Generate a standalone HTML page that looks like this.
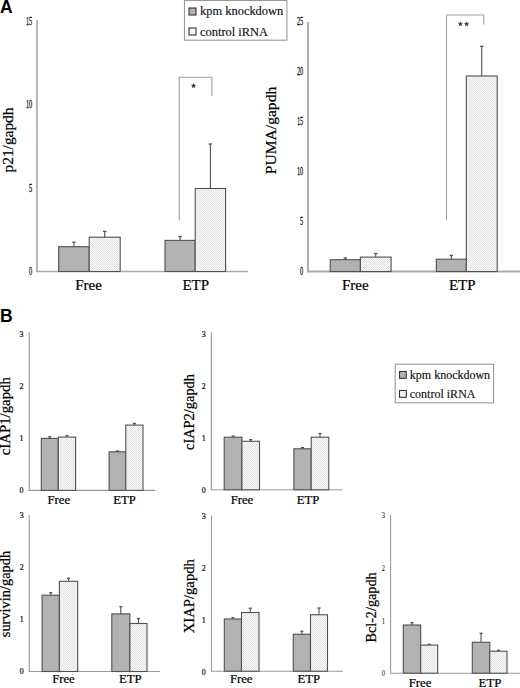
<!DOCTYPE html>
<html><head><meta charset="utf-8"><style>
html,body{margin:0;padding:0;background:#fff;width:520px;height:688px;overflow:hidden;}
svg{display:block;}
</style></head><body>
<svg width="520" height="688" viewBox="0 0 520 688">
<defs>
<pattern id="dots" width="2" height="2" patternUnits="userSpaceOnUse">
<rect width="2" height="2" fill="#f8f8f8"/>
<rect x="0" y="0" width="1" height="1" fill="#e4e4e4"/>
<rect x="1" y="1" width="1" height="1" fill="#e4e4e4"/>
</pattern>
</defs>
<text x="0" y="12.6" font-family="Liberation Sans" font-weight="bold" font-size="17.5" fill="#000">A</text>
<line x1="37" y1="20" x2="37" y2="271.5" stroke="#ababab" stroke-width="1.7"/>
<line x1="36.15" y1="271.5" x2="248" y2="271.5" stroke="#ababab" stroke-width="1.7"/>
<text x="0" y="0" transform="translate(32.30,24.58) scale(0.53,1)" text-anchor="end" font-family="Liberation Serif" font-size="12" fill="#111" stroke="#111" stroke-width="0.25">15</text>
<text x="0" y="0" transform="translate(32.30,108.08) scale(0.53,1)" text-anchor="end" font-family="Liberation Serif" font-size="12" fill="#111" stroke="#111" stroke-width="0.25">10</text>
<text x="0" y="0" transform="translate(32.30,191.58) scale(0.53,1)" text-anchor="end" font-family="Liberation Serif" font-size="12" fill="#111" stroke="#111" stroke-width="0.25">5</text>
<text x="0" y="0" transform="translate(32.30,275.08) scale(0.53,1)" text-anchor="end" font-family="Liberation Serif" font-size="12" fill="#111" stroke="#111" stroke-width="0.25">0</text>
<rect x="58.70" y="246.70" width="30.50" height="24.80" fill="#b2b2b2" stroke="#505050" stroke-width="1.1"/>
<line x1="73.95" y1="242.20" x2="73.95" y2="246.70" stroke="#505050" stroke-width="1.1"/>
<line x1="72.25" y1="242.20" x2="75.65" y2="242.20" stroke="#505050" stroke-width="1.3"/>
<rect x="89.20" y="237.20" width="31.00" height="34.30" fill="url(#dots)" stroke="#505050" stroke-width="1.1"/>
<line x1="104.70" y1="231.40" x2="104.70" y2="237.20" stroke="#505050" stroke-width="1.1"/>
<line x1="103.00" y1="231.40" x2="106.40" y2="231.40" stroke="#505050" stroke-width="1.3"/>
<rect x="165.00" y="240.40" width="30.20" height="31.10" fill="#b2b2b2" stroke="#505050" stroke-width="1.1"/>
<line x1="180.10" y1="236.60" x2="180.10" y2="240.40" stroke="#505050" stroke-width="1.1"/>
<line x1="178.40" y1="236.60" x2="181.80" y2="236.60" stroke="#505050" stroke-width="1.3"/>
<rect x="195.20" y="188.50" width="30.40" height="83.00" fill="url(#dots)" stroke="#505050" stroke-width="1.1"/>
<line x1="210.40" y1="144.00" x2="210.40" y2="188.50" stroke="#505050" stroke-width="1.1"/>
<line x1="208.70" y1="144.00" x2="212.10" y2="144.00" stroke="#505050" stroke-width="1.3"/>
<polyline points="179.2,220.5 179.2,77.3 211.9,77.3 211.9,96.2" fill="none" stroke="#a0a0a0" stroke-width="1.1"/>
<polygon points="193.60,83.60 194.19,85.09 195.79,85.19 194.55,86.21 194.95,87.76 193.60,86.90 192.25,87.76 192.65,86.21 191.41,85.19 193.01,85.09" fill="#333" stroke="#333" stroke-width="0.4"/>
<text x="88.50" y="290.20" text-anchor="middle" font-family="Liberation Serif" font-size="15" fill="#000" stroke="#000" stroke-width="0.22">Free</text>
<text x="195.80" y="290.30" text-anchor="middle" font-family="Liberation Serif" font-size="15" fill="#000" stroke="#000" stroke-width="0.22">ETP</text>
<text x="0" y="0" transform="translate(12.80,140.00) rotate(-90)" text-anchor="middle" font-family="Liberation Serif" font-size="15.4" fill="#000" stroke="#000" stroke-width="0.22">p21/gapdh</text>
<rect x="184.5" y="0.5" width="102.39999999999998" height="39.7" fill="#fff" stroke="#999" stroke-width="1.1"/>
<rect x="189" y="8" width="7" height="7" fill="#b2b2b2" stroke="#333" stroke-width="1.1"/>
<rect x="189" y="28" width="7" height="7" fill="#f4f4f4" stroke="#333" stroke-width="1.1"/>
<text x="200" y="15.3" font-family="Liberation Serif" font-size="12.45" fill="#111" stroke="#111" stroke-width="0.15">kpm knockdown</text>
<text x="200" y="35.7" font-family="Liberation Serif" font-size="12.45" fill="#111" stroke="#111" stroke-width="0.15">control iRNA</text>
<line x1="307.9" y1="22" x2="307.9" y2="271.5" stroke="#ababab" stroke-width="1.9"/>
<line x1="306.95" y1="271.5" x2="520" y2="271.5" stroke="#ababab" stroke-width="1.9"/>
<text x="0" y="0" transform="translate(303.30,25.08) scale(0.53,1)" text-anchor="end" font-family="Liberation Serif" font-size="12" fill="#111" stroke="#111" stroke-width="0.25">25</text>
<text x="0" y="0" transform="translate(303.30,75.08) scale(0.53,1)" text-anchor="end" font-family="Liberation Serif" font-size="12" fill="#111" stroke="#111" stroke-width="0.25">20</text>
<text x="0" y="0" transform="translate(303.30,125.08) scale(0.53,1)" text-anchor="end" font-family="Liberation Serif" font-size="12" fill="#111" stroke="#111" stroke-width="0.25">15</text>
<text x="0" y="0" transform="translate(303.30,175.08) scale(0.53,1)" text-anchor="end" font-family="Liberation Serif" font-size="12" fill="#111" stroke="#111" stroke-width="0.25">10</text>
<text x="0" y="0" transform="translate(303.30,225.08) scale(0.53,1)" text-anchor="end" font-family="Liberation Serif" font-size="12" fill="#111" stroke="#111" stroke-width="0.25">5</text>
<text x="0" y="0" transform="translate(303.30,275.08) scale(0.53,1)" text-anchor="end" font-family="Liberation Serif" font-size="12" fill="#111" stroke="#111" stroke-width="0.25">0</text>
<rect x="330.20" y="259.70" width="30.20" height="11.80" fill="#b2b2b2" stroke="#505050" stroke-width="1.1"/>
<line x1="345.30" y1="258.00" x2="345.30" y2="259.70" stroke="#505050" stroke-width="1.1"/>
<line x1="343.60" y1="258.00" x2="347.00" y2="258.00" stroke="#505050" stroke-width="1.3"/>
<rect x="360.40" y="257.10" width="30.70" height="14.40" fill="url(#dots)" stroke="#505050" stroke-width="1.1"/>
<line x1="375.75" y1="253.50" x2="375.75" y2="257.10" stroke="#505050" stroke-width="1.1"/>
<line x1="374.05" y1="253.50" x2="377.45" y2="253.50" stroke="#505050" stroke-width="1.3"/>
<rect x="436.30" y="259.20" width="30.00" height="12.30" fill="#b2b2b2" stroke="#505050" stroke-width="1.1"/>
<line x1="451.30" y1="255.40" x2="451.30" y2="259.20" stroke="#505050" stroke-width="1.1"/>
<line x1="449.60" y1="255.40" x2="453.00" y2="255.40" stroke="#505050" stroke-width="1.3"/>
<rect x="466.30" y="76.00" width="30.90" height="195.50" fill="url(#dots)" stroke="#505050" stroke-width="1.1"/>
<line x1="481.75" y1="46.30" x2="481.75" y2="76.00" stroke="#505050" stroke-width="1.1"/>
<line x1="480.05" y1="46.30" x2="483.45" y2="46.30" stroke="#505050" stroke-width="1.3"/>
<polyline points="446.5,220.2 446.5,15 483.8,15 483.8,24.6" fill="none" stroke="#a0a0a0" stroke-width="1.1"/>
<polygon points="460.40,21.80 460.99,23.29 462.59,23.39 461.35,24.41 461.75,25.96 460.40,25.10 459.05,25.96 459.45,24.41 458.21,23.39 459.81,23.29" fill="#333" stroke="#333" stroke-width="0.4"/>
<polygon points="466.60,21.80 467.19,23.29 468.79,23.39 467.55,24.41 467.95,25.96 466.60,25.10 465.25,25.96 465.65,24.41 464.41,23.39 466.01,23.29" fill="#333" stroke="#333" stroke-width="0.4"/>
<text x="355.30" y="289.90" text-anchor="middle" font-family="Liberation Serif" font-size="15" fill="#000" stroke="#000" stroke-width="0.22">Free</text>
<text x="462.30" y="290.40" text-anchor="middle" font-family="Liberation Serif" font-size="15" fill="#000" stroke="#000" stroke-width="0.22">ETP</text>
<text x="0" y="0" transform="translate(276.20,130.50) rotate(-90)" text-anchor="middle" font-family="Liberation Serif" font-size="15.6" fill="#000" stroke="#000" stroke-width="0.22">PUMA/gapdh</text>
<text x="0" y="321.7" font-family="Liberation Sans" font-weight="bold" font-size="17.5" fill="#000">B</text>
<line x1="29.2" y1="332.3" x2="29.2" y2="490.4" stroke="#9a9a9a" stroke-width="1.1"/>
<line x1="28.65" y1="490.4" x2="155.2" y2="490.4" stroke="#9a9a9a" stroke-width="1.1"/>
<text x="0" y="0" transform="translate(23.40,336.66) scale(0.88,1)" text-anchor="end" font-family="Liberation Serif" font-size="9.0" fill="#111" stroke="#111" stroke-width="0.25">3</text>
<text x="0" y="0" transform="translate(23.40,388.66) scale(0.88,1)" text-anchor="end" font-family="Liberation Serif" font-size="9.0" fill="#111" stroke="#111" stroke-width="0.25">2</text>
<text x="0" y="0" transform="translate(23.40,440.66) scale(0.88,1)" text-anchor="end" font-family="Liberation Serif" font-size="9.0" fill="#111" stroke="#111" stroke-width="0.25">1</text>
<text x="0" y="0" transform="translate(23.40,492.66) scale(0.88,1)" text-anchor="end" font-family="Liberation Serif" font-size="9.0" fill="#111" stroke="#111" stroke-width="0.25">0</text>
<rect x="41.30" y="438.40" width="17.00" height="52.00" fill="#b2b2b2" stroke="#505050" stroke-width="1.1"/>
<line x1="49.80" y1="436.80" x2="49.80" y2="438.40" stroke="#505050" stroke-width="1.1"/>
<line x1="48.30" y1="436.80" x2="51.30" y2="436.80" stroke="#505050" stroke-width="1.3"/>
<rect x="58.30" y="437.10" width="17.30" height="53.30" fill="url(#dots)" stroke="#505050" stroke-width="1.1"/>
<line x1="66.95" y1="435.60" x2="66.95" y2="437.10" stroke="#505050" stroke-width="1.1"/>
<line x1="65.45" y1="435.60" x2="68.45" y2="435.60" stroke="#505050" stroke-width="1.3"/>
<rect x="109.10" y="451.80" width="16.70" height="38.60" fill="#b2b2b2" stroke="#505050" stroke-width="1.1"/>
<line x1="117.45" y1="451.00" x2="117.45" y2="451.80" stroke="#505050" stroke-width="1.1"/>
<line x1="115.95" y1="451.00" x2="118.95" y2="451.00" stroke="#505050" stroke-width="1.3"/>
<rect x="125.80" y="425.10" width="17.20" height="65.30" fill="url(#dots)" stroke="#505050" stroke-width="1.1"/>
<line x1="134.40" y1="423.50" x2="134.40" y2="425.10" stroke="#505050" stroke-width="1.1"/>
<line x1="132.90" y1="423.50" x2="135.90" y2="423.50" stroke="#505050" stroke-width="1.3"/>
<text x="58.80" y="503.50" text-anchor="middle" font-family="Liberation Serif" font-size="12.7" fill="#000" stroke="#000" stroke-width="0.22">Free</text>
<text x="124.50" y="503.50" text-anchor="middle" font-family="Liberation Serif" font-size="12.7" fill="#000" stroke="#000" stroke-width="0.22">ETP</text>
<text x="0" y="0" transform="translate(10.00,416.20) rotate(-90)" text-anchor="middle" font-family="Liberation Serif" font-size="14.8" fill="#000" stroke="#000" stroke-width="0.22">cIAP1/gapdh</text>
<line x1="211.3" y1="332.3" x2="211.3" y2="489.8" stroke="#9a9a9a" stroke-width="1.1"/>
<line x1="210.75" y1="489.8" x2="342.4" y2="489.8" stroke="#9a9a9a" stroke-width="1.1"/>
<text x="0" y="0" transform="translate(205.80,336.96) scale(0.88,1)" text-anchor="end" font-family="Liberation Serif" font-size="9.0" fill="#111" stroke="#111" stroke-width="0.25">3</text>
<text x="0" y="0" transform="translate(205.80,388.96) scale(0.88,1)" text-anchor="end" font-family="Liberation Serif" font-size="9.0" fill="#111" stroke="#111" stroke-width="0.25">2</text>
<text x="0" y="0" transform="translate(205.80,440.96) scale(0.88,1)" text-anchor="end" font-family="Liberation Serif" font-size="9.0" fill="#111" stroke="#111" stroke-width="0.25">1</text>
<text x="0" y="0" transform="translate(205.80,492.96) scale(0.88,1)" text-anchor="end" font-family="Liberation Serif" font-size="9.0" fill="#111" stroke="#111" stroke-width="0.25">0</text>
<rect x="224.20" y="437.20" width="17.70" height="52.60" fill="#b2b2b2" stroke="#505050" stroke-width="1.1"/>
<line x1="233.05" y1="436.10" x2="233.05" y2="437.20" stroke="#505050" stroke-width="1.1"/>
<line x1="231.55" y1="436.10" x2="234.55" y2="436.10" stroke="#505050" stroke-width="1.3"/>
<rect x="241.90" y="441.30" width="17.60" height="48.50" fill="url(#dots)" stroke="#505050" stroke-width="1.1"/>
<line x1="250.70" y1="439.60" x2="250.70" y2="441.30" stroke="#505050" stroke-width="1.1"/>
<line x1="249.20" y1="439.60" x2="252.20" y2="439.60" stroke="#505050" stroke-width="1.3"/>
<rect x="293.90" y="448.80" width="17.30" height="41.00" fill="#b2b2b2" stroke="#505050" stroke-width="1.1"/>
<line x1="302.55" y1="447.60" x2="302.55" y2="448.80" stroke="#505050" stroke-width="1.1"/>
<line x1="301.05" y1="447.60" x2="304.05" y2="447.60" stroke="#505050" stroke-width="1.3"/>
<rect x="311.20" y="437.20" width="17.60" height="52.60" fill="url(#dots)" stroke="#505050" stroke-width="1.1"/>
<line x1="320.00" y1="433.50" x2="320.00" y2="437.20" stroke="#505050" stroke-width="1.1"/>
<line x1="318.50" y1="433.50" x2="321.50" y2="433.50" stroke="#505050" stroke-width="1.3"/>
<text x="241.90" y="503.50" text-anchor="middle" font-family="Liberation Serif" font-size="12.7" fill="#000" stroke="#000" stroke-width="0.22">Free</text>
<text x="308.10" y="503.50" text-anchor="middle" font-family="Liberation Serif" font-size="12.7" fill="#000" stroke="#000" stroke-width="0.22">ETP</text>
<text x="0" y="0" transform="translate(194.00,412.00) rotate(-90)" text-anchor="middle" font-family="Liberation Serif" font-size="14.4" fill="#000" stroke="#000" stroke-width="0.22">cIAP2/gapdh</text>
<rect x="395.2" y="364.2" width="98.40000000000003" height="38.60000000000002" fill="#fff" stroke="#999" stroke-width="1.1"/>
<rect x="399.5" y="371.5" width="6.8" height="6.8" fill="#b2b2b2" stroke="#333" stroke-width="1.1"/>
<rect x="399.5" y="390.5" width="6.8" height="6.8" fill="#f4f4f4" stroke="#333" stroke-width="1.1"/>
<text x="409.8" y="378.7" font-family="Liberation Serif" font-size="12" fill="#111" stroke="#111" stroke-width="0.15">kpm knockdown</text>
<text x="409.8" y="397.7" font-family="Liberation Serif" font-size="12" fill="#111" stroke="#111" stroke-width="0.15">control iRNA</text>
<line x1="29.2" y1="515" x2="29.2" y2="671.5" stroke="#9a9a9a" stroke-width="1.1"/>
<line x1="28.65" y1="671.5" x2="159.8" y2="671.5" stroke="#9a9a9a" stroke-width="1.1"/>
<text x="0" y="0" transform="translate(23.80,517.76) scale(0.88,1)" text-anchor="end" font-family="Liberation Serif" font-size="9.0" fill="#111" stroke="#111" stroke-width="0.25">3</text>
<text x="0" y="0" transform="translate(23.80,569.76) scale(0.88,1)" text-anchor="end" font-family="Liberation Serif" font-size="9.0" fill="#111" stroke="#111" stroke-width="0.25">2</text>
<text x="0" y="0" transform="translate(23.80,621.76) scale(0.88,1)" text-anchor="end" font-family="Liberation Serif" font-size="9.0" fill="#111" stroke="#111" stroke-width="0.25">1</text>
<text x="0" y="0" transform="translate(23.80,673.76) scale(0.88,1)" text-anchor="end" font-family="Liberation Serif" font-size="9.0" fill="#111" stroke="#111" stroke-width="0.25">0</text>
<rect x="42.10" y="595.20" width="17.30" height="76.30" fill="#b2b2b2" stroke="#505050" stroke-width="1.1"/>
<line x1="50.75" y1="592.70" x2="50.75" y2="595.20" stroke="#505050" stroke-width="1.1"/>
<line x1="49.25" y1="592.70" x2="52.25" y2="592.70" stroke="#505050" stroke-width="1.3"/>
<rect x="59.40" y="581.30" width="18.30" height="90.20" fill="url(#dots)" stroke="#505050" stroke-width="1.1"/>
<line x1="68.55" y1="578.20" x2="68.55" y2="581.30" stroke="#505050" stroke-width="1.1"/>
<line x1="67.05" y1="578.20" x2="70.05" y2="578.20" stroke="#505050" stroke-width="1.3"/>
<rect x="111.80" y="613.90" width="18.10" height="57.60" fill="#b2b2b2" stroke="#505050" stroke-width="1.1"/>
<line x1="120.85" y1="606.70" x2="120.85" y2="613.90" stroke="#505050" stroke-width="1.1"/>
<line x1="119.35" y1="606.70" x2="122.35" y2="606.70" stroke="#505050" stroke-width="1.3"/>
<rect x="129.90" y="623.50" width="17.10" height="48.00" fill="url(#dots)" stroke="#505050" stroke-width="1.1"/>
<line x1="138.45" y1="618.50" x2="138.45" y2="623.50" stroke="#505050" stroke-width="1.1"/>
<line x1="136.95" y1="618.50" x2="139.95" y2="618.50" stroke="#505050" stroke-width="1.3"/>
<text x="63.40" y="683.00" text-anchor="middle" font-family="Liberation Serif" font-size="12.7" fill="#000" stroke="#000" stroke-width="0.22">Free</text>
<text x="130.20" y="683.00" text-anchor="middle" font-family="Liberation Serif" font-size="12.7" fill="#000" stroke="#000" stroke-width="0.22">ETP</text>
<text x="0" y="0" transform="translate(10.20,594.00) rotate(-90)" text-anchor="middle" font-family="Liberation Serif" font-size="14.4" fill="#000" stroke="#000" stroke-width="0.22">survivin/gapdh</text>
<line x1="211.5" y1="515.4" x2="211.5" y2="671.2" stroke="#9a9a9a" stroke-width="1.1"/>
<line x1="210.95" y1="671.2" x2="343" y2="671.2" stroke="#9a9a9a" stroke-width="1.1"/>
<text x="0" y="0" transform="translate(205.80,518.76) scale(0.88,1)" text-anchor="end" font-family="Liberation Serif" font-size="9.0" fill="#111" stroke="#111" stroke-width="0.25">3</text>
<text x="0" y="0" transform="translate(205.80,570.76) scale(0.88,1)" text-anchor="end" font-family="Liberation Serif" font-size="9.0" fill="#111" stroke="#111" stroke-width="0.25">2</text>
<text x="0" y="0" transform="translate(205.80,622.76) scale(0.88,1)" text-anchor="end" font-family="Liberation Serif" font-size="9.0" fill="#111" stroke="#111" stroke-width="0.25">1</text>
<text x="0" y="0" transform="translate(205.80,674.76) scale(0.88,1)" text-anchor="end" font-family="Liberation Serif" font-size="9.0" fill="#111" stroke="#111" stroke-width="0.25">0</text>
<rect x="224.30" y="619.00" width="17.20" height="52.20" fill="#b2b2b2" stroke="#505050" stroke-width="1.1"/>
<line x1="232.90" y1="617.75" x2="232.90" y2="619.00" stroke="#505050" stroke-width="1.1"/>
<line x1="231.40" y1="617.75" x2="234.40" y2="617.75" stroke="#505050" stroke-width="1.3"/>
<rect x="241.50" y="612.50" width="17.50" height="58.70" fill="url(#dots)" stroke="#505050" stroke-width="1.1"/>
<line x1="250.25" y1="608.25" x2="250.25" y2="612.50" stroke="#505050" stroke-width="1.1"/>
<line x1="248.75" y1="608.25" x2="251.75" y2="608.25" stroke="#505050" stroke-width="1.3"/>
<rect x="293.25" y="634.25" width="17.25" height="36.95" fill="#b2b2b2" stroke="#505050" stroke-width="1.1"/>
<line x1="301.88" y1="631.25" x2="301.88" y2="634.25" stroke="#505050" stroke-width="1.1"/>
<line x1="300.38" y1="631.25" x2="303.38" y2="631.25" stroke="#505050" stroke-width="1.3"/>
<rect x="310.50" y="614.75" width="17.00" height="56.45" fill="url(#dots)" stroke="#505050" stroke-width="1.1"/>
<line x1="319.00" y1="608.00" x2="319.00" y2="614.75" stroke="#505050" stroke-width="1.1"/>
<line x1="317.50" y1="608.00" x2="320.50" y2="608.00" stroke="#505050" stroke-width="1.3"/>
<text x="241.20" y="683.00" text-anchor="middle" font-family="Liberation Serif" font-size="12.7" fill="#000" stroke="#000" stroke-width="0.22">Free</text>
<text x="308.70" y="683.00" text-anchor="middle" font-family="Liberation Serif" font-size="12.7" fill="#000" stroke="#000" stroke-width="0.22">ETP</text>
<text x="0" y="0" transform="translate(194.00,596.20) rotate(-90)" text-anchor="middle" font-family="Liberation Serif" font-size="14.7" fill="#000" stroke="#000" stroke-width="0.22">XIAP/gapdh</text>
<line x1="390.6" y1="514.8" x2="390.6" y2="673.2" stroke="#9a9a9a" stroke-width="1.1"/>
<line x1="390.05" y1="673.2" x2="520" y2="673.2" stroke="#9a9a9a" stroke-width="1.1"/>
<text x="0" y="0" transform="translate(385.00,518.08) scale(0.85,1)" text-anchor="end" font-family="Liberation Serif" font-size="7.6" fill="#111" stroke="#111" stroke-width="0.05">3</text>
<text x="0" y="0" transform="translate(385.00,570.88) scale(0.85,1)" text-anchor="end" font-family="Liberation Serif" font-size="7.6" fill="#111" stroke="#111" stroke-width="0.05">2</text>
<text x="0" y="0" transform="translate(385.00,623.68) scale(0.85,1)" text-anchor="end" font-family="Liberation Serif" font-size="7.6" fill="#111" stroke="#111" stroke-width="0.05">1</text>
<text x="0" y="0" transform="translate(385.00,676.48) scale(0.85,1)" text-anchor="end" font-family="Liberation Serif" font-size="7.6" fill="#111" stroke="#111" stroke-width="0.05">0</text>
<rect x="403.30" y="625.00" width="17.40" height="48.20" fill="#b2b2b2" stroke="#505050" stroke-width="1.1"/>
<line x1="412.00" y1="622.70" x2="412.00" y2="625.00" stroke="#505050" stroke-width="1.1"/>
<line x1="410.50" y1="622.70" x2="413.50" y2="622.70" stroke="#505050" stroke-width="1.3"/>
<rect x="420.70" y="645.10" width="17.00" height="28.10" fill="url(#dots)" stroke="#505050" stroke-width="1.1"/>
<line x1="429.20" y1="644.30" x2="429.20" y2="645.10" stroke="#505050" stroke-width="1.1"/>
<line x1="427.70" y1="644.30" x2="430.70" y2="644.30" stroke="#505050" stroke-width="1.3"/>
<rect x="472.30" y="642.30" width="17.50" height="30.90" fill="#b2b2b2" stroke="#505050" stroke-width="1.1"/>
<line x1="481.05" y1="633.30" x2="481.05" y2="642.30" stroke="#505050" stroke-width="1.1"/>
<line x1="479.55" y1="633.30" x2="482.55" y2="633.30" stroke="#505050" stroke-width="1.3"/>
<rect x="489.80" y="651.20" width="17.20" height="22.00" fill="url(#dots)" stroke="#505050" stroke-width="1.1"/>
<line x1="498.40" y1="650.30" x2="498.40" y2="651.20" stroke="#505050" stroke-width="1.1"/>
<line x1="496.90" y1="650.30" x2="499.90" y2="650.30" stroke="#505050" stroke-width="1.3"/>
<text x="420.10" y="687.40" text-anchor="middle" font-family="Liberation Serif" font-size="12.9" fill="#000" stroke="#000" stroke-width="0.22">Free</text>
<text x="490.00" y="687.40" text-anchor="middle" font-family="Liberation Serif" font-size="12.9" fill="#000" stroke="#000" stroke-width="0.22">ETP</text>
<text x="0" y="0" transform="translate(376.00,607.50) rotate(-90)" text-anchor="middle" font-family="Liberation Serif" font-size="14.2" fill="#000" stroke="#000" stroke-width="0.22">Bcl-2/gapdh</text>
</svg>
</body></html>
